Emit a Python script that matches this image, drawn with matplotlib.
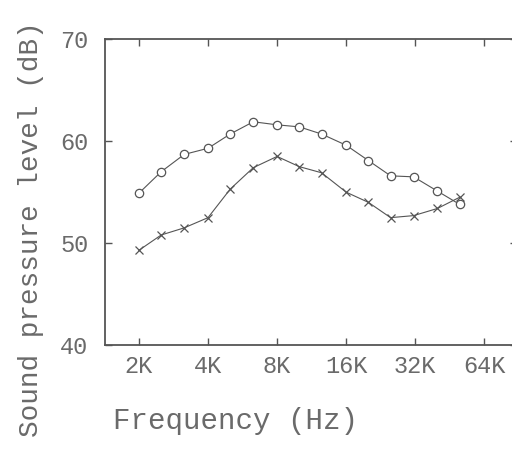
import matplotlib
matplotlib.use("Agg")
import matplotlib.pyplot as plt

# Frequencies in Hz (1/3-octave steps) and sound pressure levels in dB
freq = [2000, 2500, 3150, 4000, 5000, 6300, 8000, 10000, 12500,
        16000, 20000, 25000, 31500, 40000, 50000]
spl_circle = [54.9, 57.0, 58.7, 59.3, 60.7, 61.9, 61.6, 61.4, 60.7,
              59.6, 58.1, 56.6, 56.5, 55.1, 53.8]
spl_cross = [49.3, 50.8, 51.5, 52.5, 55.3, 57.4, 58.5, 57.5, 56.9,
             55.0, 54.0, 52.5, 52.7, 53.4, 54.5]

xticks = [2000, 4000, 8000, 16000, 32000, 64000]
xticklabels = ["2K", "4K", "8K", "16K", "32K", "64K"]
yticks = [40, 50, 60, 70]

ink = "#555555"
txt = "#6a6a6a"
plt.rcParams["font.family"] = ["Liberation Mono", "DejaVu Sans Mono"]

fig = plt.figure(figsize=(5.12, 4.5), dpi=100)
ax = fig.add_axes([0.205, 0.233, 0.805, 0.68])

ax.plot(freq, spl_circle, color=ink, lw=0.8, marker="o", ms=6,
        mfc="white", mec=ink, mew=0.9)
ax.plot(freq, spl_cross, color=ink, lw=0.8, marker="x", ms=6,
        mec=ink, mew=0.9)

ax.set_xscale("log", base=2)
ax.set_xlim(1422, 89000)
ax.set_ylim(40, 70)
ax.set_xticks(xticks)
ax.set_xticklabels(xticklabels)
ax.minorticks_off()
ax.set_yticks(yticks)

for s in ax.spines.values():
    s.set_color(ink)
    s.set_linewidth(1.3)

ax.tick_params(axis="both", direction="in", colors=ink, labelcolor=txt,
               labelsize=17, length=5, width=1, top=True, right=True)
ax.tick_params(axis="x", pad=7)
ax.tick_params(axis="y", pad=12)

fig.text(0.46, 0.065, "Frequency (Hz)", ha="center", va="center",
         fontsize=21, color=txt)
fig.text(0.06, 0.49, "Sound pressure level (dB)", ha="center",
         va="center", rotation=90, fontsize=20, color=txt)

fig.savefig("out.png", dpi=100)
